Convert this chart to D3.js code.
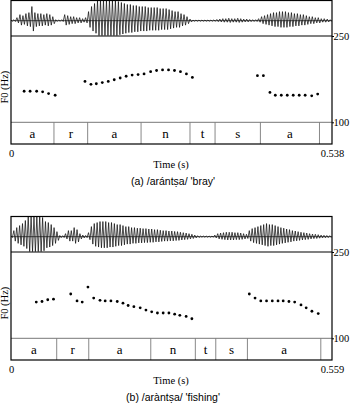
<!DOCTYPE html>
<html>
<head>
<meta charset="utf-8">
<script src="https://cdn.jsdelivr.net/npm/d3@7"></script>
<style>
  body { margin: 0; background: #fff; }
  svg { display: block; }
</style>
</head>
<body>
<div id="chart"></div>
<script>
// ---------------- data ----------------
// (a) /arántṣa/ 'bray'
const durationA = 0.538;
const pitchA = [
  [0.022, 154], [0.032, 154], [0.043, 154], [0.053, 153], [0.063, 150], [0.074, 147],
  [0.124, 171], [0.134, 166], [0.143, 167], [0.153, 169], [0.163, 171], [0.173, 174],
  [0.183, 177], [0.193, 180], [0.203, 182], [0.213, 183], [0.223, 184], [0.234, 188],
  [0.244, 190], [0.254, 191], [0.264, 191], [0.274, 190], [0.284, 188], [0.294, 184],
  [0.304, 178],
  [0.413, 181], [0.423, 181],
  [0.434, 152], [0.443, 147], [0.453, 147], [0.463, 147], [0.473, 147], [0.483, 147],
  [0.493, 147], [0.504, 146], [0.514, 149]
];
const boundsA = [0, 0.072, 0.1285, 0.218, 0.300, 0.342, 0.418, 0.517, 0.538];
const labelsA = ["a", "r", "a", "n", "t", "s", "a", ""];
// waveform envelope, one value per 5 ms
const waveA = [
  0.03, 0.05, 0.15, 0.3, 0.25, 0.35, 0.4, 0.7, 0.4, 0.35,
  0.35, 0.3, 0.35, 0.3, 0.2, 0.05, 0.04, 0.05, 0.3, 0.25,
  0.2, 0.2, 0.15, 0.15, 0.1, 0.15, 0.45, 0.7, 0.85, 1.0,
  1.0, 1.0, 1.0, 1.0, 1.0, 1.0, 0.95, 0.9, 0.85, 0.8,
  0.8, 0.75, 0.75, 0.7, 0.7, 0.7, 0.65, 0.65, 0.65, 0.65,
  0.6, 0.6, 0.6, 0.55, 0.5, 0.45, 0.45, 0.35, 0.3, 0.2,
  0.08, 0.03, 0.03, 0.03, 0.03, 0.03, 0.03, 0.03, 0.04, 0.06,
  0.08, 0.1, 0.1, 0.12, 0.1, 0.1, 0.12, 0.1, 0.08, 0.08,
  0.06, 0.05, 0.05, 0.1, 0.2, 0.25, 0.3, 0.35, 0.4, 0.4,
  0.45, 0.45, 0.45, 0.4, 0.4, 0.35, 0.35, 0.3, 0.3, 0.25,
  0.2, 0.2, 0.15, 0.15, 0.1, 0.1, 0.08, 0.05
];

// (b) /aràntṣa/ 'fishing'
const durationB = 0.559;
const pitchB = [
  [0.044, 163], [0.054, 164], [0.064, 167], [0.074, 168],
  [0.104, 177], [0.115, 165], [0.124, 163], [0.134, 189],
  [0.144, 170], [0.155, 166], [0.164, 165], [0.174, 165], [0.185, 164], [0.195, 161],
  [0.204, 157], [0.214, 155], [0.225, 153], [0.235, 149], [0.245, 146], [0.255, 144],
  [0.265, 144], [0.275, 144], [0.285, 142], [0.294, 140], [0.305, 138], [0.315, 134],
  [0.415, 177], [0.425, 170], [0.435, 165], [0.445, 165], [0.455, 165], [0.465, 165],
  [0.474, 165], [0.484, 164], [0.494, 163], [0.505, 158], [0.514, 153], [0.524, 147],
  [0.535, 143]
];
const boundsB = [0, 0.0796, 0.1354, 0.2434, 0.321, 0.3566, 0.4117, 0.5395, 0.559];
const labelsB = ["a", "r", "a", "n", "t", "s", "a", ""];
const waveB = [
  0.05, 0.3, 0.45, 0.55, 0.65, 0.8, 1.0, 1.0, 1.0, 1.0,
  1.0, 0.95, 0.75, 0.7, 0.6, 0.45, 0.25, 0.06, 0.05, 0.15,
  0.3, 0.3, 0.45, 0.35, 0.15, 0.08, 0.06, 0.2, 0.5, 0.65,
  0.7, 0.75, 0.75, 0.75, 0.7, 0.7, 0.65, 0.6, 0.6, 0.55,
  0.5, 0.5, 0.45, 0.45, 0.42, 0.42, 0.4, 0.4, 0.38, 0.38,
  0.35, 0.35, 0.32, 0.3, 0.3, 0.28, 0.28, 0.26, 0.25, 0.22,
  0.2, 0.18, 0.15, 0.12, 0.08, 0.05, 0.03, 0.03, 0.03, 0.03,
  0.03, 0.08, 0.15, 0.18, 0.2, 0.22, 0.22, 0.22, 0.2, 0.2,
  0.18, 0.15, 0.12, 0.3, 0.4, 0.45, 0.5, 0.55, 0.6, 0.65,
  0.6, 0.6, 0.55, 0.5, 0.45, 0.42, 0.38, 0.35, 0.3, 0.28,
  0.25, 0.22, 0.2, 0.18, 0.15, 0.13, 0.12, 0.1, 0.08, 0.07,
  0.06, 0.05
];
const waveStep = 0.005;
const f0Ticks = [100, 250];

// ---------------- drawing ----------------
const width = 350, height = 403;
const left = 11, right = 332;
const waveH = 36, f0H = 86.3, tierH = 21.7;
const serif = "'Liberation Serif', 'Times New Roman', serif";
const sans = "'Liberation Sans', Arial, sans-serif";

const svg = d3.select("#chart").append("svg")
  .attr("width", width)
  .attr("height", height)
  .attr("viewBox", [0, 0, width, height]);

function drawPanel(top, duration, pitch, bounds, labels, wave, caption, id) {
  const g = svg.append("g").attr("transform", `translate(0,${top})`);
  const f0Top = waveH, f0Bottom = waveH + f0H, tierBottom = f0Bottom + tierH;

  const x = d3.scaleLinear().domain([0, duration]).range([left, right]);
  const y = d3.scaleLinear().domain([100, 250]).range([f0Bottom, f0Top]);
  // waveform: centre sits a bit below the middle, 1 = touching the box
  const centre = waveH * 0.575;
  const wUp = d3.scaleLinear().domain([0, 1]).range([centre, 0.5]);
  const wDown = d3.scaleLinear().domain([0, 1]).range([centre, waveH - 0.5]);

  // waveform
  g.append("clipPath").attr("id", "clip" + id)
    .append("rect").attr("x", left).attr("y", 0).attr("width", right - left).attr("height", waveH);

  g.append("line")
    .attr("x1", left).attr("x2", right)
    .attr("y1", centre).attr("y2", centre)
    .attr("stroke", "#222").attr("stroke-width", 0.8);

  const pts = [];
  wave.forEach((a, i) => {
    const t = i * waveStep;
    pts.push([x(t), wUp(a)]);
    pts.push([x(t + waveStep / 2), wDown(a)]);
  });
  g.append("path")
    .attr("clip-path", `url(#clip${id})`)
    .attr("d", d3.line()(pts))
    .attr("fill", "none")
    .attr("stroke", "#111")
    .attr("stroke-width", 0.75);

  // pitch points
  g.selectAll(".f0")
    .data(pitch)
    .join("circle")
    .attr("cx", d => x(d[0]))
    .attr("cy", d => y(d[1]))
    .attr("r", 1.4)
    .attr("fill", "#000");

  // tier
  const segs = labels.map((l, i) => ({ label: l, t0: bounds[i], t1: bounds[i + 1] }));
  g.selectAll(".bound")
    .data(bounds.slice(1, -1))
    .join("line")
    .attr("x1", d => x(d)).attr("x2", d => x(d))
    .attr("y1", f0Bottom).attr("y2", tierBottom)
    .attr("stroke", "#888").attr("stroke-width", 1);

  g.selectAll(".seg")
    .data(segs)
    .join("text")
    .attr("x", d => x((d.t0 + d.t1) / 2))
    .attr("y", f0Bottom + tierH / 2 + 4.5)
    .attr("text-anchor", "middle")
    .attr("font-family", serif)
    .attr("font-size", 13)
    .text(d => d.label);

  g.append("line")
    .attr("x1", left).attr("x2", right)
    .attr("y1", f0Bottom).attr("y2", f0Bottom)
    .attr("stroke", "#777").attr("stroke-width", 1);

  g.append("line")
    .attr("x1", left).attr("x2", right)
    .attr("y1", f0Top).attr("y2", f0Top)
    .attr("stroke", "#000").attr("stroke-width", 1.2);

  // frame
  g.append("rect")
    .attr("x", left).attr("y", 0.5)
    .attr("width", right - left).attr("height", tierBottom - 0.5)
    .attr("fill", "none")
    .attr("stroke", "#000").attr("stroke-width", 1.2);

  // right F0 axis
  const yAxis = d3.axisRight(y).tickValues(f0Ticks).tickSize(2).tickFormat(d3.format("d"));
  g.append("g")
    .attr("transform", `translate(${right},0)`)
    .call(yAxis)
    .call(a => a.select(".domain").remove())
    .call(a => a.selectAll("text")
      .attr("x", 1.5)
      .attr("font-family", serif)
      .attr("font-size", 10.5)
      .attr("fill", "#000"));

  // time axis: only end labels
  const xAxis = d3.axisBottom(x).tickValues([0, duration]).tickSize(0)
    .tickFormat(d => d === 0 ? "0" : d3.format(".3f")(d));
  g.append("g")
    .attr("transform", `translate(0,${tierBottom})`)
    .call(xAxis)
    .call(a => a.select(".domain").remove())
    .call(a => a.selectAll("text")
      .attr("y", 6)
      .attr("font-family", serif)
      .attr("font-size", 10.5)
      .attr("fill", "#000"));

  g.append("text")
    .attr("transform", `translate(7.5,${(f0Top + f0Bottom) / 2 + 8}) rotate(-90)`)
    .attr("text-anchor", "middle")
    .attr("font-family", serif)
    .attr("font-size", 10.5)
    .text("F0 (Hz)");

  g.append("text")
    .attr("x", 171)
    .attr("y", tierBottom + 24)
    .attr("text-anchor", "middle")
    .attr("font-family", serif)
    .attr("font-size", 10.5)
    .text("Time (s)");

  g.append("text")
    .attr("x", 173)
    .attr("y", tierBottom + 41)
    .attr("text-anchor", "middle")
    .attr("font-family", sans)
    .attr("font-size", 10.5)
    .text(caption);
}

drawPanel(0, durationA, pitchA, boundsA, labelsA, waveA, "(a) /arántṣa/ 'bray'", "a");
drawPanel(216, durationB, pitchB, boundsB, labelsB, waveB, "(b) /aràntṣa/ 'fishing'", "b");
</script>
</body>
</html>
